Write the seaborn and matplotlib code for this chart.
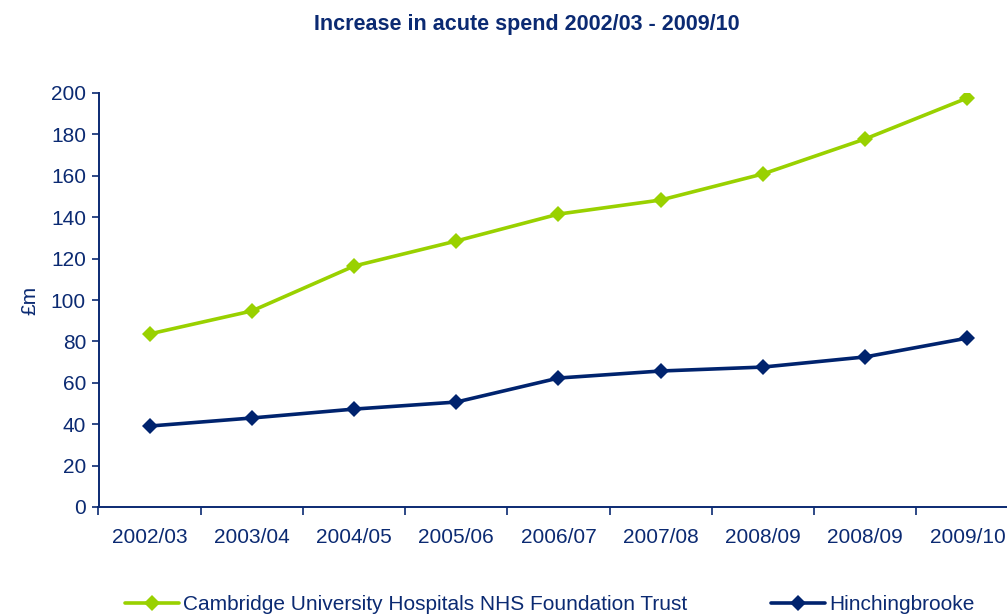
import matplotlib
matplotlib.use("Agg")
import matplotlib.pyplot as plt
import seaborn as sns
import pandas as pd
from matplotlib.ticker import FixedLocator
from matplotlib.lines import Line2D

years = ["2002/03", "2003/04", "2004/05", "2005/06", "2006/07",
         "2007/08", "2008/09", "2008/09 ", "2009/10"]
tick_labels = ["2002/03", "2003/04", "2004/05", "2005/06", "2006/07",
               "2007/08", "2008/09", "2008/09", "2009/10"]
cambridge = [83.6, 94.7, 116.4, 128.5, 141.5, 148.3, 160.9, 177.8, 197.6]
hinchingbrooke = [39.1, 43.0, 47.3, 50.7, 62.3, 65.7, 67.6, 72.5, 81.6]
series_names = ["Cambridge University Hospitals NHS Foundation Trust", "Hinchingbrooke"]
colors = ["#99D100", "#00236E"]
navy = "#0B2A72"

sns.set_theme(style="white")
plt.rcParams["font.family"] = ["Liberation Sans", "DejaVu Sans"]

df = pd.DataFrame({
    "x": list(range(len(years))) * 2,
    "value": cambridge + hinchingbrooke,
    "series": [series_names[0]] * len(years) + [series_names[1]] * len(years),
})

fig = plt.figure(figsize=(10.07, 6.16), dpi=100)
ax = fig.add_axes([98.5 / 1007, (616 - 507) / 616, 920 / 1007, 414 / 616])

sns.lineplot(data=df, x="x", y="value", hue="series", palette=colors,
             marker="D", markersize=8.5, markeredgewidth=0, linewidth=2.6,
             ax=ax, legend=False)

ax.set_xlim(-0.5, len(years) - 0.5)
ax.set_ylim(0, 200)
ax.set_yticks(range(0, 201, 20))
ax.set_xticks(range(len(years)))
ax.set_xticklabels(tick_labels)
ax.xaxis.set_minor_locator(FixedLocator([i - 0.5 for i in range(len(years) + 1)]))
ax.tick_params(axis="x", which="major", length=0, pad=15, labelsize=15, labelcolor=navy)
ax.tick_params(axis="x", which="minor", length=6, width=1.2, color=navy, direction="out", bottom=True)
ax.tick_params(axis="y", length=5, width=1.2, color=navy, direction="out", left=True,
               labelsize=15, labelcolor=navy, pad=4)
ax.set_xlabel("")
ax.set_ylabel("£m", color=navy, fontsize=15, labelpad=8)
for s in ["top", "right"]:
    ax.spines[s].set_visible(False)
for s in ["left", "bottom"]:
    ax.spines[s].set_color(navy)
    ax.spines[s].set_linewidth(1.4)

fig.suptitle("Increase in acute spend 2002/03 - 2009/10", x=0.523, y=0.978,
             fontsize=15.5, fontweight="bold", color=navy)

handles = [Line2D([0], [0], color=c, lw=2.6, marker="D", markersize=8.5, markeredgewidth=0)
           for c in colors]
fig.legend(handles, series_names, loc="center", bbox_to_anchor=(0.546, 0.019),
           ncol=2, frameon=False, fontsize=15, handlelength=2.6, handletextpad=0.2,
           columnspacing=4.0, labelcolor=navy, borderpad=0)

fig.savefig("out.png", dpi=100)
